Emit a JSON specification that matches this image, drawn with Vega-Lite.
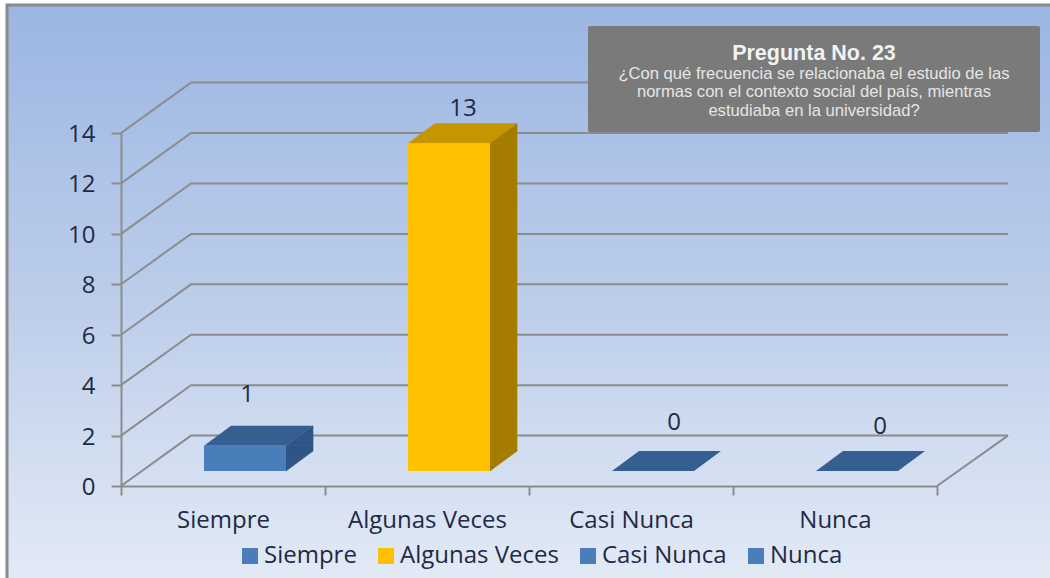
{
"$schema":"https://vega.github.io/schema/vega-lite/v6.json",
"width":816,"height":353,
"autosize":{"type":"none"},
"padding":{"left":121,"top":133,"right":113,"bottom":92},
"background":"#ffffff",
"config":{"view":{"stroke":null},"font":"Open Sans"},
"data":{"values":[
{"cat":"Siempre","value":1},
{"cat":"Algunas Veces","value":13},
{"cat":"Casi Nunca","value":0},
{"cat":"Nunca","value":0}]},
"encoding":{
"x":{"field":"cat","type":"nominal","sort":null,"scale":{"type":"band","domain":["Siempre","Algunas Veces","Casi Nunca","Nunca"],"paddingInner":0,"paddingOuter":0},
"axis":{"title":null,"zindex":1,"labelAngle":0,"tickBand":"extent","tickSize":9,"tickWidth":2,"tickColor":"#8C8C8C","domainColor":"#8C8C8C","domainWidth":2,"labelFont":"Open Sans","labelFontSize":24,"labelColor":"#1F2A44","labelPadding":13}},
"y":{"field":"value","type":"quantitative","scale":{"domain":[0,14],"nice":false},
"axis":{"title":null,"zindex":1,"values":[0,2,4,6,8,10,12,14],"grid":false,"tickSize":10,"tickWidth":2,"tickColor":"#8C8C8C","domainColor":"#8C8C8C","domainWidth":2,"labelFont":"Open Sans","labelFontSize":24,"labelColor":"#1F2A44","labelPadding":16,"labelOffset":1.5}}
},
"layer":[
{"data":{"values":[{"value":0}]},
"mark":{"type":"point","shape":"M-216,-481 L837,-481 L837,104 L-216,104 Z","size":4,"filled":true,"opacity":1,"stroke":"#8A8A8A","strokeWidth":3,"fill":{"gradient":"linear","x1":0,"y1":0,"x2":0,"y2":1,"stops":[{"offset":0,"color":"#9BB6E3"},{"offset":0.5,"color":"#BCCDEA"},{"offset":1,"color":"#E4EBF6"}]}},
"encoding":{"x":{"datum":"Siempre","type":"nominal"}}},
{"data":{"values":[{"value":0},{"value":2},{"value":4},{"value":6},{"value":8},{"value":10},{"value":12},{"value":14}]},
"mark":{"type":"point","shape":"M-102,0 L-32,-50.4 L785,-50.4","size":4,"filled":false,"opacity":1,"color":"#8C8C8C","strokeWidth":2},
"encoding":{"x":{"datum":"Siempre","type":"nominal"}}},
{"data":{"values":[{"value":0}]},
"mark":{"type":"point","shape":"M714,0 L785,-50.4","size":4,"filled":false,"opacity":1,"color":"#8C8C8C","strokeWidth":2},
"encoding":{"x":{"datum":"Siempre","type":"nominal"}}},
{"transform":[{"filter":"datum.value>0"}],
"mark":{"type":"bar","width":27,"xOffset":76.5,"yOffset":-15,"y2Offset":-35,"strokeWidth":0.6},
"encoding":{"y2":{"datum":0},"color":{"condition":{"test":"datum.cat==='Algunas Veces'","value":"#A67C00"},"value":"#2F5587"},"stroke":{"condition":{"test":"datum.cat==='Algunas Veces'","value":"#A67C00"},"value":"#2F5587"}}},
{"transform":[{"filter":"datum.value>0"}],
"mark":{"type":"point","shape":"M41,0 L68,-20 L68,0 Z","size":4,"filled":true,"opacity":1,"yOffset":-15,"xOffset":22,"strokeWidth":0.6},
"encoding":{"color":{"condition":{"test":"datum.cat==='Algunas Veces'","value":"#A67C00"},"value":"#2F5587"},"stroke":{"condition":{"test":"datum.cat==='Algunas Veces'","value":"#A67C00"},"value":"#2F5587"}}},
{"transform":[{"filter":"datum.value>0"}],
"mark":{"type":"point","shape":"M41,0 L41,-20 L68,-20 Z","size":4,"filled":true,"opacity":1,"yOffset":-15,"xOffset":22,"strokeWidth":0.6},
"encoding":{"y":{"datum":0,"type":"quantitative"},"color":{"condition":{"test":"datum.cat==='Algunas Veces'","value":"#A67C00"},"value":"#2F5587"},"stroke":{"condition":{"test":"datum.cat==='Algunas Veces'","value":"#A67C00"},"value":"#2F5587"}}},
{"mark":{"type":"point","shape":"M-41,0 L41,0 L68,-20 L-14,-20 Z","size":4,"filled":true,"opacity":1,"yOffset":-15,"xOffset":22},
"encoding":{"color":{"condition":{"test":"datum.cat==='Algunas Veces'","value":"#C69500"},"value":"#355F91"}}},
{"mark":{"type":"bar","width":82,"xOffset":22,"yOffset":-15,"y2Offset":-15},
"encoding":{"y2":{"datum":0},"color":{"field":"cat","type":"nominal","sort":null,
"scale":{"domain":["Siempre","Algunas Veces","Casi Nunca","Nunca"],"range":["#4A7EBB","#FFC000","#4A7EBB","#4A7EBB"]},
"legend":{"title":null,"orient":"none","legendX":117,"legendY":411,"direction":"horizontal","columns":4,"symbolType":"square","symbolSize":256,"labelFont":"Open Sans","labelFontSize":24,"labelColor":"#1F2A44","labelOffset":2,"columnPadding":17,"symbolStrokeWidth":0,"padding":0}}}},
{"transform":[{"filter":"datum.cat==='Siempre'"}],"mark":{"type":"text","fontSize":24,"color":"#1F2A44","baseline":"middle","dx":24,"dy":-66},"encoding":{"text":{"field":"value","type":"quantitative"}}},
{"transform":[{"filter":"datum.cat==='Algunas Veces'"}],"mark":{"type":"text","fontSize":24,"color":"#1F2A44","baseline":"middle","dx":36,"dy":-49},"encoding":{"text":{"field":"value","type":"quantitative"}}},
{"transform":[{"filter":"datum.cat==='Casi Nunca'"}],"mark":{"type":"text","fontSize":24,"color":"#1F2A44","baseline":"middle","dx":43,"dy":-63},"encoding":{"text":{"field":"value","type":"quantitative"}}},
{"transform":[{"filter":"datum.cat==='Nunca'"}],"mark":{"type":"text","fontSize":24,"color":"#1F2A44","baseline":"middle","dx":45,"dy":-59},"encoding":{"text":{"field":"value","type":"quantitative"}}},
{"data":{"values":[{"value":14}]},
"mark":{"type":"point","shape":"M-245,-107 L203,-107 Q205,-107 205,-105 L205,-3 Q205,-1 203,-1 L-245,-1 Q-247,-1 -247,-3 L-247,-105 Q-247,-107 -245,-107 Z","size":4,"filled":true,"opacity":1,"color":"#7A7A7A"},
"encoding":{"x":{"datum":"Nunca","type":"nominal"}}},
{"data":{"values":[{"value":14,"t":"Pregunta No. 23"}]},
"mark":{"type":"text","font":"Liberation Sans","fontWeight":"bold","fontSize":21.5,"color":"#F2F2F2","baseline":"middle","dx":-21,"dy":-79},
"encoding":{"x":{"datum":"Nunca","type":"nominal"},"text":{"field":"t"}}},
{"data":{"values":[{"value":14,"t":"¿Con qué frecuencia se relacionaba el estudio de las"}]},
"mark":{"type":"text","font":"Liberation Sans","fontSize":16.6,"color":"#E6E6E6","baseline":"middle","dx":-21,"dy":-59},
"encoding":{"x":{"datum":"Nunca","type":"nominal"},"text":{"field":"t"}}},
{"data":{"values":[{"value":14,"t":"normas con el contexto social del país, mientras"}]},
"mark":{"type":"text","font":"Liberation Sans","fontSize":16.6,"color":"#E6E6E6","baseline":"middle","dx":-21,"dy":-41},
"encoding":{"x":{"datum":"Nunca","type":"nominal"},"text":{"field":"t"}}},
{"data":{"values":[{"value":14,"t":"estudiaba en la universidad?"}]},
"mark":{"type":"text","font":"Liberation Sans","fontSize":16.6,"color":"#E6E6E6","baseline":"middle","dx":-21,"dy":-22},
"encoding":{"x":{"datum":"Nunca","type":"nominal"},"text":{"field":"t"}}}
]
}
